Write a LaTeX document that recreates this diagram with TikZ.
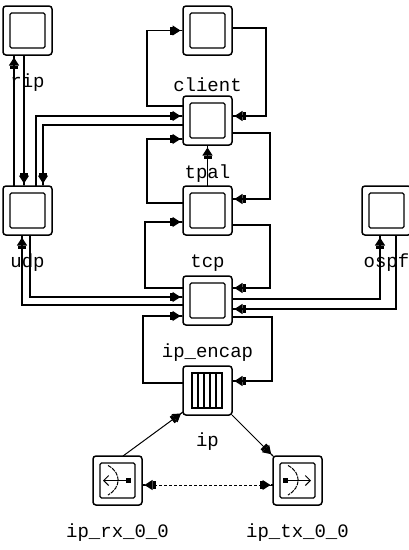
\documentclass[tikz,border=0pt]{standalone}
\usepackage{fontspec}
\setmonofont{Liberation Mono}
\usetikzlibrary{arrows.meta,positioning}
\tikzset{
  >={Square[length=3pt,width=8pt]Stealth[length=8pt,width=10pt,inset=0pt]Square[length=2.5pt,width=1.2pt]},
  pmbox/.style={rectangle, rounded corners=3pt, draw=black, line width=1.5pt, minimum size=49pt,
                inner sep=0pt, outer sep=0pt},
  procbox/.style={pmbox, path picture={
      \draw[rounded corners=1.5pt, line width=1.3pt]
        ([shift={(7pt,7pt)}]path picture bounding box.south west) rectangle
        ([shift={(-7pt,-7pt)}]path picture bounding box.north east);}},
  queuebox/.style={pmbox, path picture={
      \begin{scope}[shift={(path picture bounding box.center)}, sharp corners, line width=1.2pt]
        \draw (-15.5,-17.5) rectangle (14.5,17.5);
        \foreach \x in {-9.5,-3.5,2.5,8.5}
          \draw (\x,-17.5) -- (\x,17.5);
      \end{scope}}},
  rxbox/.style={pmbox, path picture={
      \draw[rounded corners=1.5pt, line width=1.3pt]
        ([shift={(7pt,7pt)}]path picture bounding box.south west) rectangle
        ([shift={(-7pt,-7pt)}]path picture bounding box.north east);
      \begin{scope}[shift={(path picture bounding box.center)}, sharp corners, line width=1pt]
        \draw[dash pattern=on 4pt off 1pt] (-9.5,15) .. controls (4,8) and (4,-7) .. (-9.5,-14.5);
        \fill (8,-2.5) rectangle (13,2.5);
        \draw[-{Straight Barb[length=5pt,width=10pt]}] (10,0) -- (-14.5,0);
      \end{scope}}},
  txbox/.style={pmbox, path picture={
      \draw[rounded corners=1.5pt, line width=1.3pt]
        ([shift={(7pt,7pt)}]path picture bounding box.south west) rectangle
        ([shift={(-7pt,-7pt)}]path picture bounding box.north east);
      \begin{scope}[shift={(path picture bounding box.center)}, sharp corners, line width=1pt]
        \draw[dash pattern=on 4pt off 1pt] (-9.5,15) .. controls (4,8) and (4,-7) .. (-9.5,-14.5);
        \fill (-15,-2.5) rectangle (-10,2.5);
        \draw[-{Straight Barb[length=5pt,width=10pt]}] (-12,0) -- (13.5,0);
      \end{scope}}},
  tag/.style={font=\ttfamily\fontsize{19}{19}\selectfont, inner sep=0pt, text height=13pt, text depth=4pt},
  wire/.style={->, line width=1.2pt, black},
  statwire/.style={<->, line width=1pt, dash pattern=on 3pt off 2pt, black},
  thinwire/.style={->, line width=1pt, black},
}
\begin{document}
\begin{tikzpicture}[x=1pt, y=1pt, node distance=41pt]
\path[use as bounding box] (0,0) rectangle (409,-550);

\node[procbox] (client) at (207.5,-30.5) {};
\node[procbox, below=of client] (tpal) {};
\node[procbox, below=of tpal] (tcp) {};
\node[procbox, below=of tcp] (ipencap) {};
\node[queuebox, below=of ipencap] (ip) {};
\node[rxbox, below left=41pt and 41pt of ip] (iprx) {};
\node[txbox, below right=41pt and 41pt of ip] (iptx) {};
\node[procbox, left=131pt of client] (rip) {};
\node[procbox, left=131pt of tcp] (udp) {};
\node[procbox, right=130pt of tcp] (ospf) {};

\node[tag, below=19pt of rip] (riplabel) {rip};
\node[tag, below=23pt of client] (clientlabel) {client};
\node[tag, below=20pt of tpal] (tpallabel) {tpal};
\node[tag, below=19pt of tcp] (tcplabel) {tcp};
\node[tag, below=19pt of udp] (udplabel) {udp};
\node[tag, below=19pt of ospf] (ospflabel) {ospf};
\node[tag, below=19pt of ipencap] (ipencaplabel) {ip\_encap};
\node[tag, below=18pt of ip] (iplabel) {ip};
\node[tag, below=19pt of iprx] (iprxlabel) {ip\_rx\_0\_0};
\node[tag, below=19pt of iptx] (iptxlabel) {ip\_tx\_0\_0};

% rip and udp
\draw[wire] ([xshift=-13.5pt]udp.north) -- ([xshift=-13.5pt]rip.south);
\draw[wire] ([xshift=-3.5pt]rip.south) -- ([xshift=-3.5pt]udp.north);
\draw[wire] ([yshift=-4.5pt]tpal.west) -| ([xshift=15.5pt]udp.north);
\draw[wire] ([xshift=8.5pt]udp.north) |- ([yshift=4.5pt]tpal.west);

% centre column, left and right loops
\draw[wire] ([yshift=14.5pt]tpal.west) -- ++(-36,0) |- (client.west);
\draw[wire] ([yshift=2.5pt]client.east) -- ++(34,0) |- ([yshift=4.5pt]tpal.east);
\draw[wire] (tcp.north) -- (tpal.south);
\draw[wire] ([yshift=7.5pt]tcp.west) -- ++(-36,0) |- ([yshift=-18.5pt]tpal.west);
\draw[wire] ([yshift=-12.5pt]tpal.east) -- ++(38,0) |- ([yshift=11.5pt]tcp.east);
\draw[wire] ([yshift=12.5pt]ipencap.west) -- ++(-38,0) |- ([yshift=-11.5pt]tcp.west);
\draw[wire] ([yshift=-14.5pt]tcp.east) -- ++(38,0) |- ([yshift=12.5pt]ipencap.east);
\draw[wire] ([yshift=7.5pt]ip.west) -- ++(-40,0) |- ([yshift=-15.5pt]ipencap.west);
\draw[wire] ([yshift=-16.5pt]ipencap.east) -- ++(40,0) |- ([yshift=9.5pt]ip.east);

% udp and ospf down to ip_encap
\draw[wire] ([yshift=-4.5pt]ipencap.west) -| ([xshift=-5.5pt]udp.south);
\draw[wire] ([xshift=2.5pt]udp.south) |- ([yshift=3.5pt]ipencap.west);
\draw[wire] ([yshift=1.5pt]ipencap.east) -| ([xshift=-6.5pt]ospf.south);
\draw[wire] ([xshift=9.5pt]ospf.south) |- ([yshift=-8.5pt]ipencap.east);

% radio links
\draw[thinwire] ([xshift=5.5pt]iprx.north) -- ([yshift=3pt]ip.south west);
\draw[thinwire] (ip.south east) -- (iptx.north west);
\draw[statwire] ([yshift=-4.5pt]iprx.east) -- ([yshift=-4.5pt]iptx.west);
\end{tikzpicture}
\end{document}
